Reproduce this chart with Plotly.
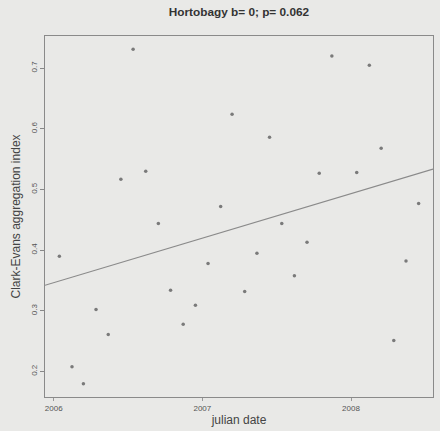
import numpy as np
import pandas as pd
import plotly.graph_objects as go

# Monthly sampling dates (mid-month)
dates = ["2006-01-15", "2006-02-15", "2006-03-15", "2006-04-15", "2006-05-15",
         "2006-06-15", "2006-07-15", "2006-08-15", "2006-09-15", "2006-10-15",
         "2006-11-15", "2006-12-15", "2007-01-15", "2007-02-15", "2007-03-15",
         "2007-04-15", "2007-05-15", "2007-06-15", "2007-07-15", "2007-08-15",
         "2007-09-15", "2007-10-15", "2007-11-15", "2008-01-15", "2008-02-15",
         "2008-03-15", "2008-04-15", "2008-05-15", "2008-06-15"]
ce_index = [0.390, 0.208, 0.180, 0.302, 0.261, 0.517, 0.731, 0.530, 0.444, 0.334,
            0.278, 0.309, 0.378, 0.472, 0.624, 0.332, 0.395, 0.586, 0.444, 0.358,
            0.413, 0.527, 0.720, 0.528, 0.705, 0.568, 0.251, 0.382, 0.477]
x_ticks = ["2006-01-01", "2007-01-01", "2008-01-01"]
x_tick_labels = ["2006", "2007", "2008"]
y_ticks = [0.2, 0.3, 0.4, 0.5, 0.6, 0.7]
y_tick_labels = ["0.2", "0.3", "0.4", "0.5", "0.6", "0.7"]
title = "Hortobagy b= 0; p= 0.062"

dt = pd.to_datetime(dates)
days = (dt - pd.Timestamp("1970-01-01")).days.values.astype(float)
y = np.array(ce_index)

# R-style axis ranges (4% extension)
dspan = days.max() - days.min()
xr = [days.min() - 0.04 * dspan, days.max() + 0.04 * dspan]
yspan = y.max() - y.min()
yr = [y.min() - 0.04 * yspan, y.max() + 0.04 * yspan]

slope, intercept = np.polyfit(days, y, 1)
line_days = np.array(xr)
line_y = intercept + slope * line_days
to_dt = lambda d: pd.Timestamp("1970-01-01") + pd.to_timedelta(d, unit="D")
xr_dt = [to_dt(d) for d in xr]
line_dt = [to_dt(d) for d in line_days]

fig = go.Figure()
fig.add_trace(go.Scatter(x=line_dt, y=line_y, mode="lines",
                         line=dict(color="#8a8a8a", width=1.2), showlegend=False))
fig.add_trace(go.Scatter(x=dt, y=y, mode="markers",
                         marker=dict(color="#7a7a7a", size=3.5), showlegend=False))

bg = "#e9e9e7"
fig.update_layout(
    width=440, height=431,
    margin=dict(l=45, r=7, t=36, b=34),
    paper_bgcolor=bg, plot_bgcolor=bg,
    font=dict(family="Liberation Sans, Arial", color="#444"),
    title=dict(text="<b>" + title + "</b>", x=0.543, xanchor="center",
               y=0.972, yanchor="middle", font=dict(size=11.8, color="#333")),
    xaxis=dict(range=xr_dt, tickvals=pd.to_datetime(x_ticks), ticktext=x_tick_labels,
               showgrid=False, zeroline=False, showline=True, mirror=True,
               linecolor="#8a8a8a", linewidth=1, ticks="outside", ticklen=3,
               tickcolor="#999", tickfont=dict(size=8, color="#555"),
               title=dict(text="julian date", font=dict(size=12, color="#444"), standoff=4)),
    yaxis=dict(range=yr, tickvals=y_ticks, ticktext=y_tick_labels,
               showgrid=False, zeroline=False, showline=True, mirror=True,
               linecolor="#8a8a8a", linewidth=1, ticks="outside", ticklen=4,
               tickcolor="#888", tickangle=-90, tickfont=dict(size=8, color="#555"),
               title=dict(text="Clark-Evans aggregation index",
                          font=dict(size=12, color="#444"), standoff=6)),
)

fig.write_html("out.html")
